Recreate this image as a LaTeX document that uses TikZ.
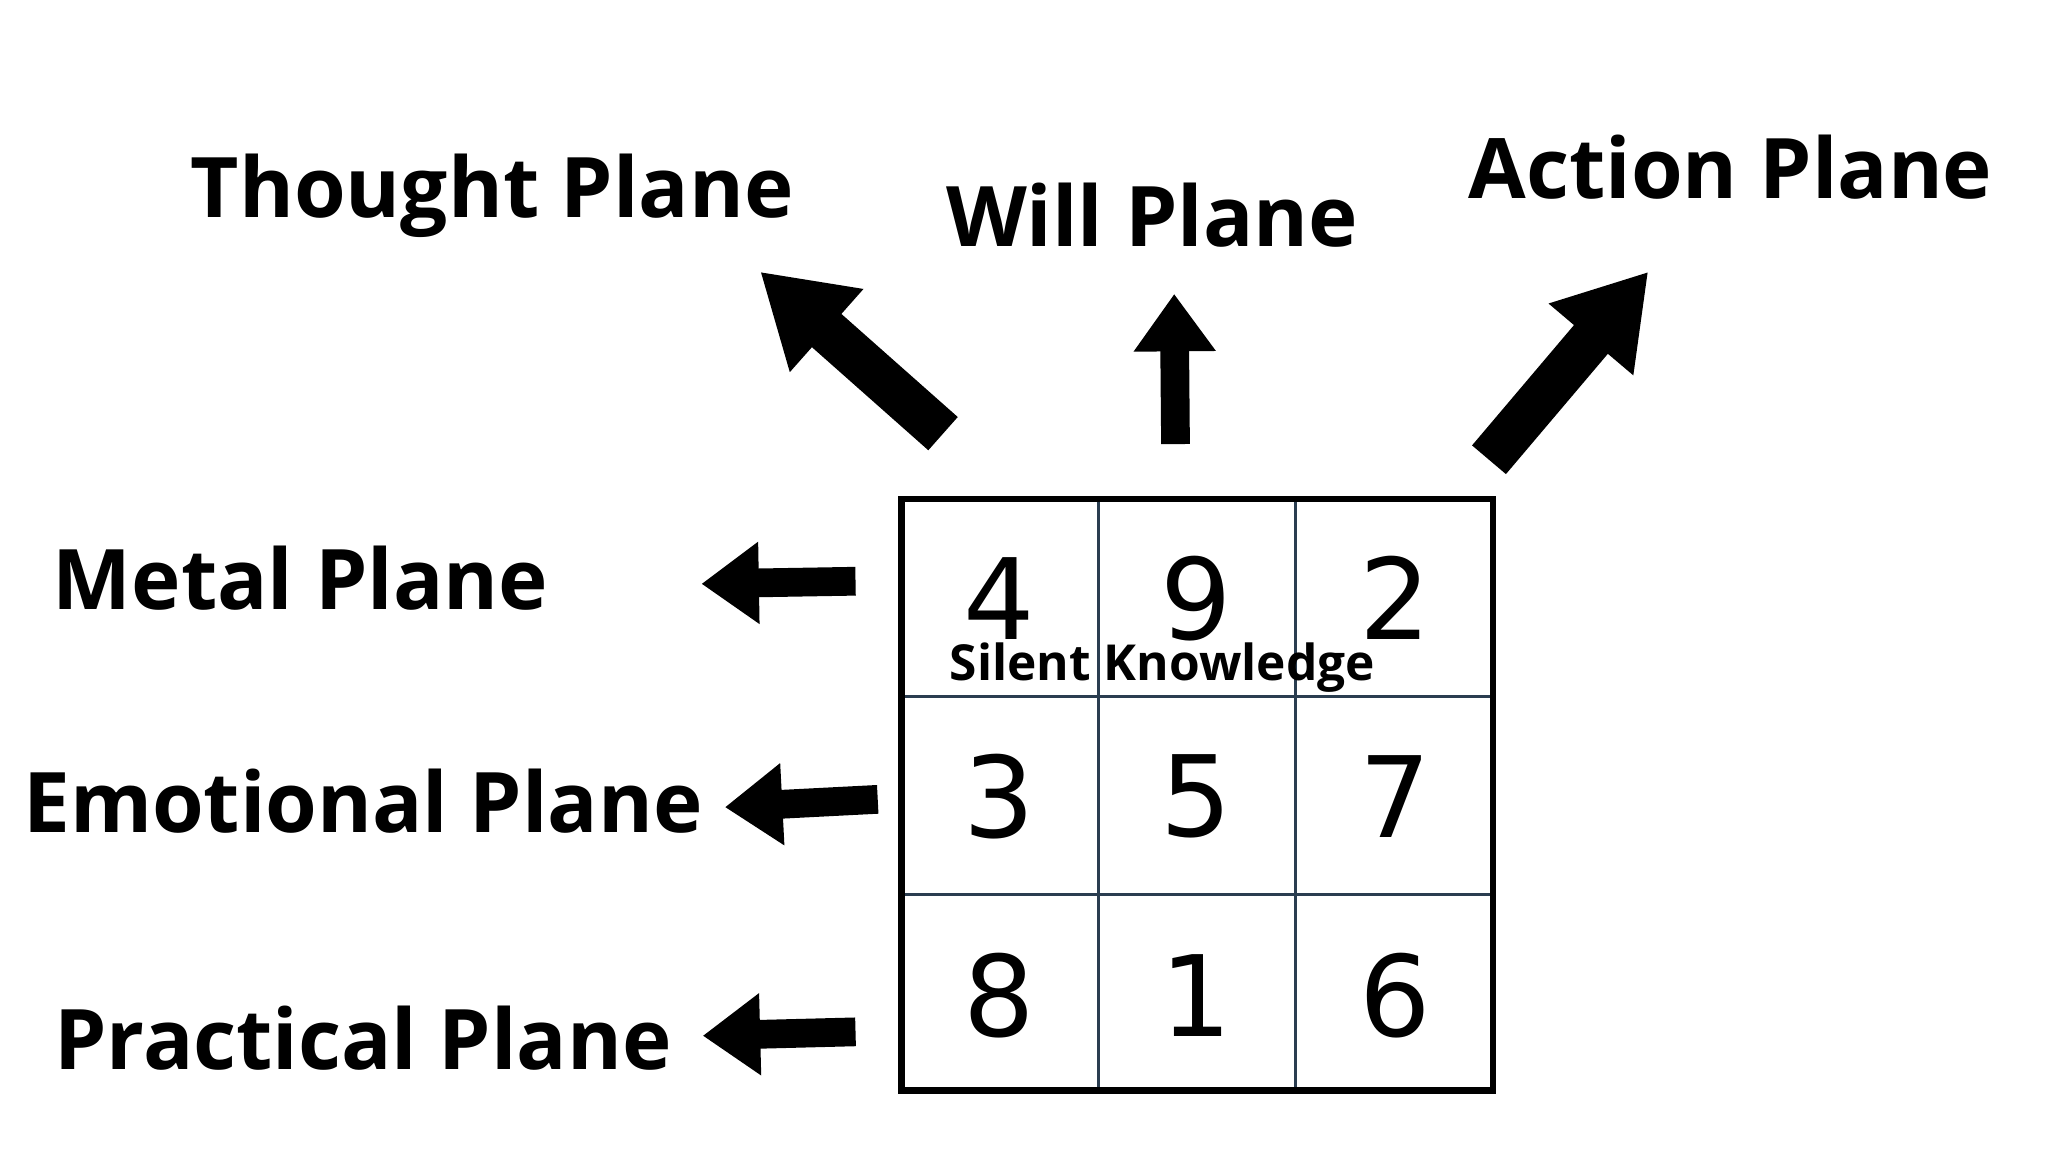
\documentclass[tikz,border=0pt]{standalone}
\usepackage{fontspec}
\setmainfont{Open Sans}
\newfontfamily\digitfont{DejaVu Sans}
\usetikzlibrary{arrows.meta}
\definecolor{gridblue}{HTML}{2A3D50}
\tikzset{
 lbl/.style={font=\bfseries\fontsize{32}{36}\selectfont, inner sep=0pt},
 dig/.style={font=\digitfont\fontsize{43}{50}\selectfont, inner sep=0pt},
 bigarrow/.style={line width=17pt, -{Triangle[length=34pt,width=40pt]}, black},
 smallarrow/.style={line width=11pt, -{Triangle[length=22pt,width=30pt]}, black},
 gridline/.style={draw=gridblue, line width=1.2pt},
}
\begin{document}
\begin{tikzpicture}[x=0.5pt,y=-0.5pt]
\useasboundingbox (0,0) rectangle (1568,882);
\fill[white] (0,0) rectangle (1568,882);
% grid
\foreach \x in {841,992} \draw[gridline] (\x,382) -- (\x,835);
\foreach \y in {533,685} \draw[gridline] (690,\y) -- (1143,\y);
\draw[line width=2.5pt] (690,382) rectangle (1143,835);
\node[dig] (n4) at (765,458) {4};
\node[dig] (n9) at (916,458) {9};
\node[dig] (n2) at (1068,458) {2};
\node[dig] (n3) at (765,610) {3};
\node[dig] (n5) at (916,610) {5};
\node[dig] (n7) at (1068,610) {7};
\node[dig] (n8) at (765,762) {8};
\node[dig] (n1) at (916,762) {1};
\node[dig] (n6) at (1068,762) {6};
\node[font=\bfseries\fontsize{19}{22}\selectfont, inner sep=0pt] (sk) at (890,511) {Silent Knowledge};
% labels
\node[lbl] (tp) at (377,150) {Thought Plane};
\node[lbl] (wp) at (882,165) {Will Plane};
\node[lbl] (ap) at (1325,128) {Action Plane};
\node[lbl] (mp) at (230,443) {Metal Plane};
\node[lbl] (ep) at (278,613) {Emotional Plane};
\node[lbl] (pp) at (278,795) {Practical Plane};
% arrow coordinates
\coordinate (t0) at (722,332); \coordinate (t1) at (582,208);
\coordinate (w0) at (900,340); \coordinate (w1) at (899,225);
\coordinate (a0) at (1140,352); \coordinate (a1) at (1262,208);
\coordinate (m0) at (655,445); \coordinate (m1) at (537,447);
\coordinate (e0) at (672,612); \coordinate (e1) at (555,618);
\coordinate (p0) at (655,790); \coordinate (p1) at (538,793);
\draw[bigarrow] (t0) -- (t1);
\draw[smallarrow] (w0) -- (w1);
\draw[bigarrow] (a0) -- (a1);
\draw[smallarrow] (m0) -- (m1);
\draw[smallarrow] (e0) -- (e1);
\draw[smallarrow] (p0) -- (p1);
\end{tikzpicture}
\end{document}
